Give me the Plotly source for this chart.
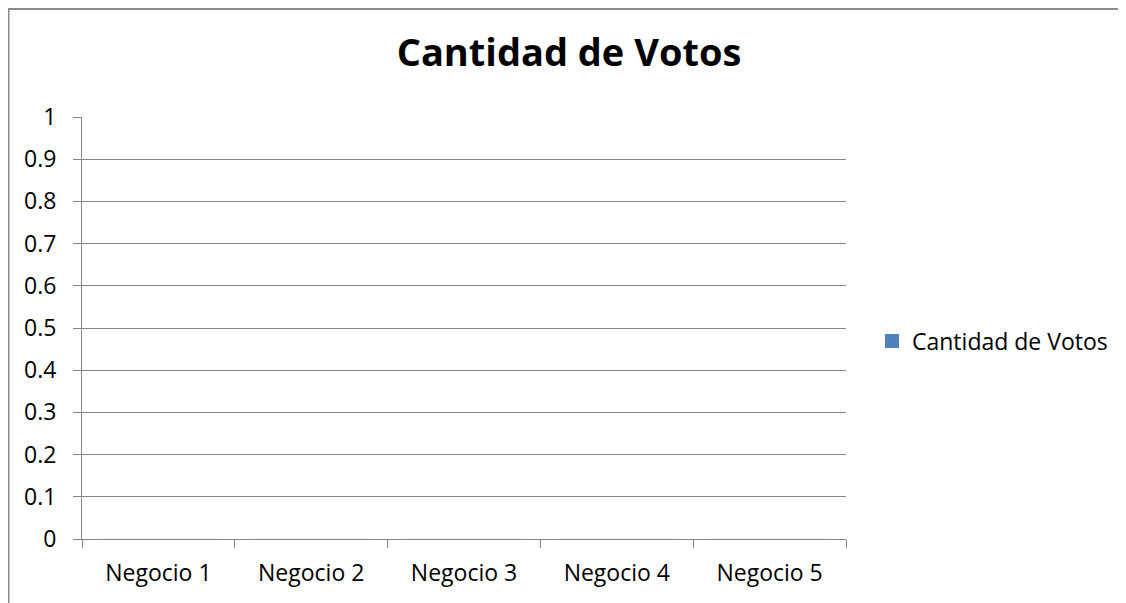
import plotly.graph_objects as go

categories = ["Negocio 1", "Negocio 2", "Negocio 3", "Negocio 4", "Negocio 5"]
votos = [0, 0, 0, 0, 0]
series_name = "Cantidad de Votos"
title_text = "Cantidad de Votos"
y_ticks = [0, 0.1, 0.2, 0.3, 0.4, 0.5, 0.6, 0.7, 0.8, 0.9, 1]
y_tick_labels = ["0", "0.1", "0.2", "0.3", "0.4", "0.5", "0.6", "0.7", "0.8", "0.9", "1"]

# page body adds an 8px margin, so the figure is laid out 8px smaller
OFF = 8
W, H = 1126 - OFF, 603 - OFF
L, R, T, B = 82 - OFF, 846 - OFF, 117 - OFF, 539 - OFF
gray = "#868686"
font = "Open Sans"
blue = "#4F81BD"

fig = go.Figure()
fig.add_trace(go.Bar(x=categories, y=votos, name=series_name,
                     marker_color=blue, showlegend=False))
# legend entry with a larger square swatch
fig.add_trace(go.Scatter(x=[None], y=[None], mode="markers", name=series_name,
                         marker=dict(symbol="square", size=14, color=blue),
                         showlegend=True))

pw, ph = R - L, B - T
def px(x):
    return (x - L) / pw
def py(y):
    return (B - y) / ph

fig.update_layout(
    width=W, height=H,
    margin=dict(l=L, r=W - R, t=T, b=H - B, pad=0),
    paper_bgcolor="white", plot_bgcolor="white",
    font=dict(family=font, size=23, color="black"),
    title=dict(text="<b>" + title_text + "</b>", x=(569 - OFF) / W, xref="container",
               xanchor="center", y=1 - (53 - OFF) / H, yref="container", yanchor="middle",
               font=dict(family=font, size=38, color="black")),
    showlegend=True,
    legend=dict(x=px(872 - OFF), y=py(341 - OFF), xanchor="left", yanchor="middle",
                font=dict(family=font, size=23, color="black"),
                bgcolor="rgba(0,0,0,0)", itemsizing="trace"),
    xaxis=dict(showline=True, linecolor=gray, linewidth=1,
               ticks="outside", tickson="boundaries", ticklen=8, tickcolor=gray,
               showgrid=False, zeroline=False, fixedrange=True,
               ticklabelstandoff=13),
    yaxis=dict(range=[0, 1], tickvals=y_ticks, ticktext=y_tick_labels,
               showline=True, linecolor=gray, linewidth=1,
               ticks="outside", ticklen=8, tickcolor=gray,
               showgrid=True, gridcolor=gray, gridwidth=1, zeroline=False,
               ticklabelstandoff=12, fixedrange=True),
    shapes=[
        dict(type="line", xref="paper", yref="paper", x0=px(0), x1=px(W),
             y0=py(1), y1=py(1), line=dict(color="#8a8a8a", width=2)),
        dict(type="line", xref="paper", yref="paper", x0=px(0.75), x1=px(0.75),
             y0=py(0), y1=py(H), line=dict(color="#8a8a8a", width=1.5)),
    ],
)

fig.write_html("out.html")
